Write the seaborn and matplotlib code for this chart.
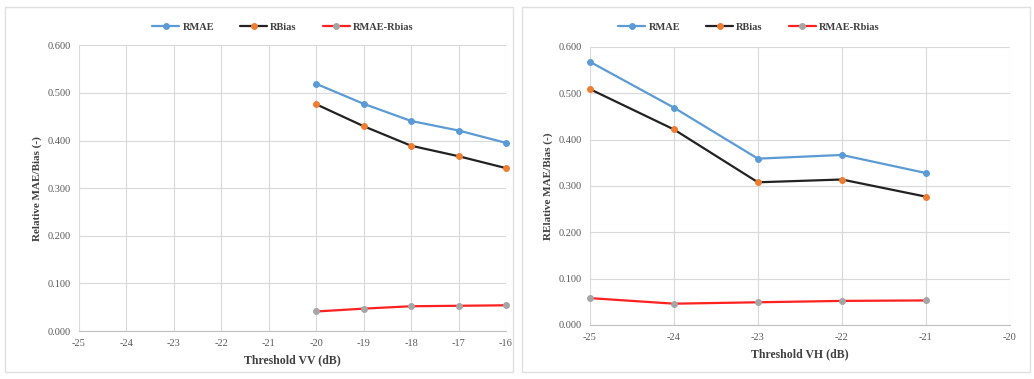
import matplotlib
matplotlib.use("Agg")
import matplotlib.pyplot as plt
import seaborn as sns
import pandas as pd
from matplotlib.patches import Rectangle

# left panel (VV)
vv_x = [-20, -19, -18, -17, -16]
vv_rmae = [0.519, 0.477, 0.441, 0.421, 0.395]
vv_rbias = [0.476, 0.430, 0.389, 0.367, 0.342]
vv_diff = [0.041, 0.047, 0.052, 0.053, 0.054]

# right panel (VH)
vh_x = [-25, -24, -23, -22, -21]
vh_rmae = [0.568, 0.469, 0.359, 0.367, 0.328]
vh_rbias = [0.509, 0.422, 0.308, 0.314, 0.277]
vh_diff = [0.058, 0.046, 0.049, 0.052, 0.053]

series_names = ["RMAE", "RBias", "RMAE-Rbias"]

sns.set_style("white")
plt.rcParams['font.family'] = ['Liberation Serif', 'DejaVu Serif']
plt.rcParams['axes.unicode_minus'] = False

fig = plt.figure(figsize=(10.34, 3.79), dpi=100)
fig.patch.set_facecolor("white")

# panel frames
fig.patches.append(Rectangle((5/1034, 7/379), 508/1034, 365/379, transform=fig.transFigure,
                             fill=False, ec="#e0e0e0", lw=1))
fig.patches.append(Rectangle((522/1034, 7/379), 508/1034, 365/379, transform=fig.transFigure,
                             fill=False, ec="#e0e0e0", lw=1))

ax1 = fig.add_axes([0.0764, 0.1266, 0.413, 0.754])
ax2 = fig.add_axes([0.5706, 0.1425, 0.406, 0.7335])

blue = "#5b9bd5"
orange = "#ed7d31"
grey = "#a5a5a5"


def draw(ax, x, rmae, rbias, diff, xlim, xlabel, ylabel):
    df = pd.DataFrame({"x": x, "RMAE": rmae, "RBias": rbias, "RMAE-Rbias": diff})
    styles = [("RMAE", blue, blue), ("RBias", "#222222", orange), ("RMAE-Rbias", "#ff2020", grey)]
    for name, lc, mc in styles:
        sns.lineplot(data=df, x="x", y=name, ax=ax, color=lc, marker="o", markersize=4.2,
                     mec=mc, mfc=mc, lw=1.6, label=name, clip_on=False, zorder=3)
    ax.set_xlim(*xlim)
    ax.set_ylim(0, 0.6)
    ax.set_xticks(range(xlim[0], xlim[1] + 1))
    ax.set_yticks([0, 0.1, 0.2, 0.3, 0.4, 0.5, 0.6])
    ax.yaxis.set_major_formatter(plt.FuncFormatter(lambda v, p: f"{v:.3f}"))
    ax.grid(True, color="#d9d9d9", lw=0.8)
    for s in ["top", "right", "left"]:
        ax.spines[s].set_visible(False)
    ax.spines["bottom"].set_color("#bfbfbf")
    ax.tick_params(axis="both", labelsize=7.5, colors="#595959", length=0, pad=6)
    ax.set_xlabel(xlabel, fontsize=8.5, fontweight="bold", color="#404040")
    ax.set_ylabel(ylabel, fontsize=8, fontweight="bold", color="#404040")
    ax.legend_.remove()


draw(ax1, vv_x, vv_rmae, vv_rbias, vv_diff, (-25, -16), "Threshold VV (dB)", "Relative MAE/Bias (-)")
draw(ax2, vh_x, vh_rmae, vh_rbias, vh_diff, (-25, -20), "Threshold VH (dB)", "RElative MAE/Bias (-)")

for ax, cx in [(ax1, 283/1034), (ax2, 749/1034)]:
    h, l = ax.get_legend_handles_labels()
    fig.legend(h, l, loc="center", bbox_to_anchor=(cx, 1 - 27/379), ncol=3, frameon=False,
               prop={"size": 7.5, "weight": "bold"}, handlelength=2.6, columnspacing=2.5,
               handletextpad=0.3, labelcolor="#404040")

fig.savefig("out.png", dpi=100, facecolor="white")
